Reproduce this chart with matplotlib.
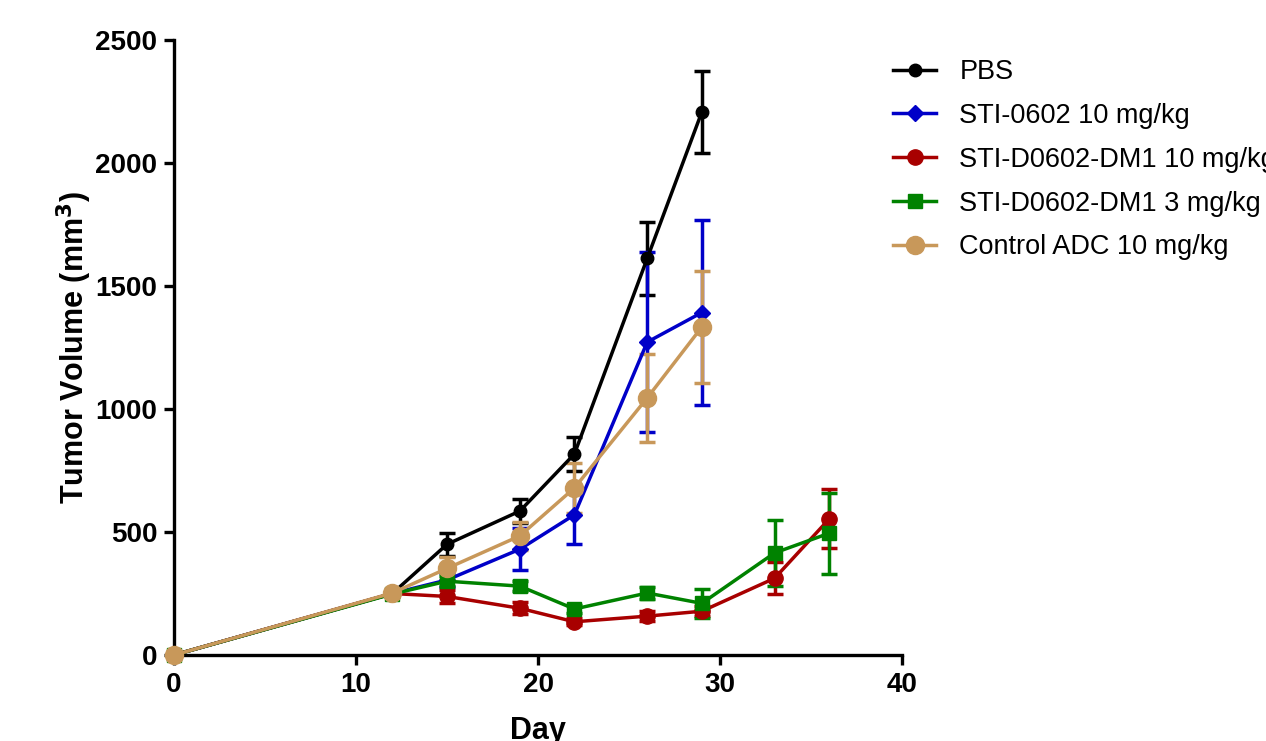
import matplotlib
matplotlib.use("Agg")
import matplotlib.pyplot as plt
from matplotlib.lines import Line2D

plt.rcParams['font.family'] = ['Liberation Sans', 'DejaVu Sans']

# ---- data ----
labels = ["PBS", "STI-0602 10 mg/kg", "STI-D0602-DM1 10 mg/kg",
          "STI-D0602-DM1 3 mg/kg", "Control ADC 10 mg/kg"]

days_pbs = [0, 12, 15, 19, 22, 26, 29]
pbs = [0, 250, 450, 585, 817, 1612, 2207]
pbs_err = [0, 10, 47, 50, 68, 150, 168]

days_sti = [0, 12, 15, 19, 22, 26, 29]
sti = [0, 250, 305, 430, 570, 1272, 1392]
sti_err = [0, 10, 30, 85, 118, 365, 375]

days_adc10 = [0, 12, 15, 19, 22, 26, 29, 33, 36]
adc10 = [0, 250, 238, 190, 135, 158, 178, 312, 553]
adc10_err = [0, 10, 25, 25, 15, 20, 20, 65, 120]

days_adc3 = [0, 12, 15, 19, 22, 26, 29, 33, 36]
adc3 = [0, 248, 300, 280, 187, 252, 210, 415, 495]
adc3_err = [0, 10, 20, 20, 15, 25, 60, 135, 165]

days_ctrl = [0, 12, 15, 19, 22, 26, 29]
ctrl = [0, 252, 352, 484, 679, 1045, 1333]
ctrl_err = [0, 10, 46, 58, 100, 180, 228]

xticks = [0, 10, 20, 30, 40]
yticks = [0, 500, 1000, 1500, 2000, 2500]

# ---- style ----
series = [
    (days_pbs, pbs, pbs_err, "black", "o", 9),
    (days_sti, sti, sti_err, "#0000C8", "D", 8),
    (days_adc10, adc10, adc10_err, "#A80000", "o", 11),
    (days_adc3, adc3, adc3_err, "#008200", "s", 10),
    (days_ctrl, ctrl, ctrl_err, "#C8985A", "o", 13),
]

fig = plt.figure(figsize=(12.66, 7.41), dpi=100)
ax = fig.add_axes([174/1266, 1-655/741, (902-174)/1266, (655-40)/741])

handles = []
for (x, y, e, c, m, ms), lab in zip(series, labels):
    ax.errorbar(x, y, yerr=e, color=c, marker=m, markersize=ms, lw=2.5,
                elinewidth=2.5, capsize=6, capthick=2.5,
                clip_on=False, zorder=3)
    handles.append(Line2D([], [], color=c, marker=m, markersize=ms, lw=2.5))

ax.set_xlim(0, 40)
ax.set_ylim(0, 2500)
ax.set_xticks(xticks)
ax.set_yticks(yticks)
ax.spines['top'].set_visible(False)
ax.spines['right'].set_visible(False)
for s in ['left', 'bottom']:
    ax.spines[s].set_linewidth(2.4)
ax.tick_params(axis='both', length=7, width=2.4, pad=5, labelsize=20)
for t in ax.get_xticklabels() + ax.get_yticklabels():
    t.set_fontweight('bold')

ax.set_xlabel("Day", fontsize=22, fontweight='bold', labelpad=13)
ax.set_ylabel("Tumor Volume (mm$\\mathbf{^3}$)", fontsize=22, fontweight='bold', labelpad=1)

leg = ax.legend(handles, labels, loc='upper left',
                bbox_to_anchor=(893/1266, 1-59/741),
                bbox_transform=fig.transFigure, frameon=False, fontsize=19.5,
                borderpad=0, borderaxespad=0, handlelength=1.6,
                handletextpad=0.85, labelspacing=0.66)

fig.savefig("out.png", dpi=100)
